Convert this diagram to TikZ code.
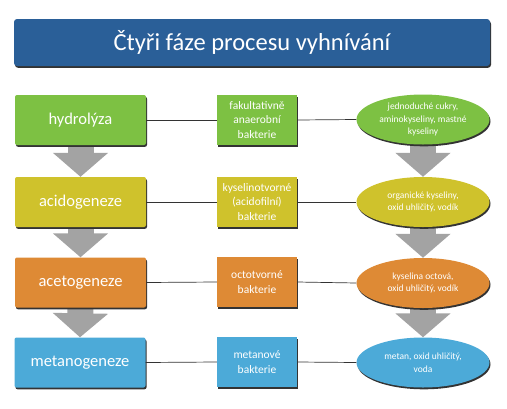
\documentclass[tikz,border=0pt]{standalone}
\usepackage{fontspec}
\setmainfont{Carlito}
\usetikzlibrary{shadows,arrows.meta,shapes.geometric,backgrounds}
\definecolor{cTitle}{HTML}{2A5F98}
\definecolor{cGreen}{HTML}{7DC143}
\definecolor{cYellow}{HTML}{CFC22C}
\definecolor{cOrange}{HTML}{DE8A35}
\definecolor{cBlue}{HTML}{4CAAD8}
\definecolor{cArrow}{HTML}{A3A3A3}
\definecolor{cLine}{HTML}{333333}
\begin{document}
\begin{tikzpicture}[x=1pt,y=-1pt,
  shade/.style={drop shadow={shadow xshift=1pt,shadow yshift=-1.8pt,fill=black!80,opacity=1}},
  titlebox/.style={rectangle,rounded corners=3pt,minimum width=476pt,minimum height=47pt,inner sep=0pt,
    fill=cTitle,text=white,font=\fontsize{24.5}{27}\selectfont,shade},
  phase/.style={rectangle,rounded corners=2pt,minimum width=131pt,minimum height=50pt,inner sep=0pt,
    text=white,font=\fontsize{16.5}{19}\selectfont,shade},
  bact/.style={rectangle,minimum width=80pt,minimum height=50pt,inner sep=0pt,align=center,
    text=white,font=\fontsize{11.5}{14.5}\selectfont,shade},
  prod/.style={ellipse,minimum width=133pt,minimum height=50pt,inner sep=0pt,align=center,
    text=white,font=\fontsize{9.5}{12.5}\selectfont,shade},
  link/.style={draw=cLine,line width=0.7pt},
  garrow/.style={draw=cArrow,line width=26pt,-{Triangle[width=54pt,length=24pt]}}
]
\useasboundingbox (0,0) rectangle (507,408);
\node[titlebox] (t) at (252,42.5) {Čtyři fáze procesu vyhnívání\hspace{18pt}};

\node[phase,fill=cGreen]  (p1) at (80.5,120) {hydrolýza};
\node[phase,fill=cYellow] (p2) at (80.5,202) {acidogeneze};
\node[phase,fill=cOrange] (p3) at (80.5,282.5) {acetogeneze};
\node[phase,fill=cBlue]   (p4) at (80,362.5) {metanogeneze};

\node[bact,fill=cGreen]  (b1) at (257,120) {fakultativně\\anaerobní\\bakterie};
\node[bact,fill=cYellow] (b2) at (257,202) {kyselinotvorné\\(acidofilní)\\bakterie};
\node[bact,fill=cOrange] (b3) at (257,282) {octotvorné\\bakterie};
\node[bact,fill=cBlue]   (b4) at (257,362) {metanové\\bakterie};

\node[prod,fill=cGreen]  (e1) at (423,119.5) {jednoduché cukry,\\aminokyseliny, mastné\\kyseliny};
\node[prod,fill=cYellow] (e2) at (423,202) {organické kyseliny,\\oxid uhličitý, vodík};
\node[prod,fill=cOrange] (e3) at (423,283) {kyselina octová,\\oxid uhličitý, vodík};
\node[prod,fill=cBlue]   (e4) at (423,362.5) {metan, oxid uhličitý,\\voda};

\begin{pgfonlayer}{background}
\draw[garrow] (p1.south) -- (p2.north);
\draw[garrow] (p2.south) -- (p3.north);
\draw[garrow] (p3.south) -- (p4.north);
\draw[garrow] (e1.south) -- (e2.north);
\draw[garrow] (e2.south) -- (e3.north);
\draw[garrow] (e3.south) -- (e4.north);
\end{pgfonlayer}

\foreach \i in {1,2,3,4}{
  \draw[link] (p\i.east) -- (b\i.west);
  \draw[link] (b\i.east) -- (e\i.west);
}
\end{tikzpicture}
\end{document}
